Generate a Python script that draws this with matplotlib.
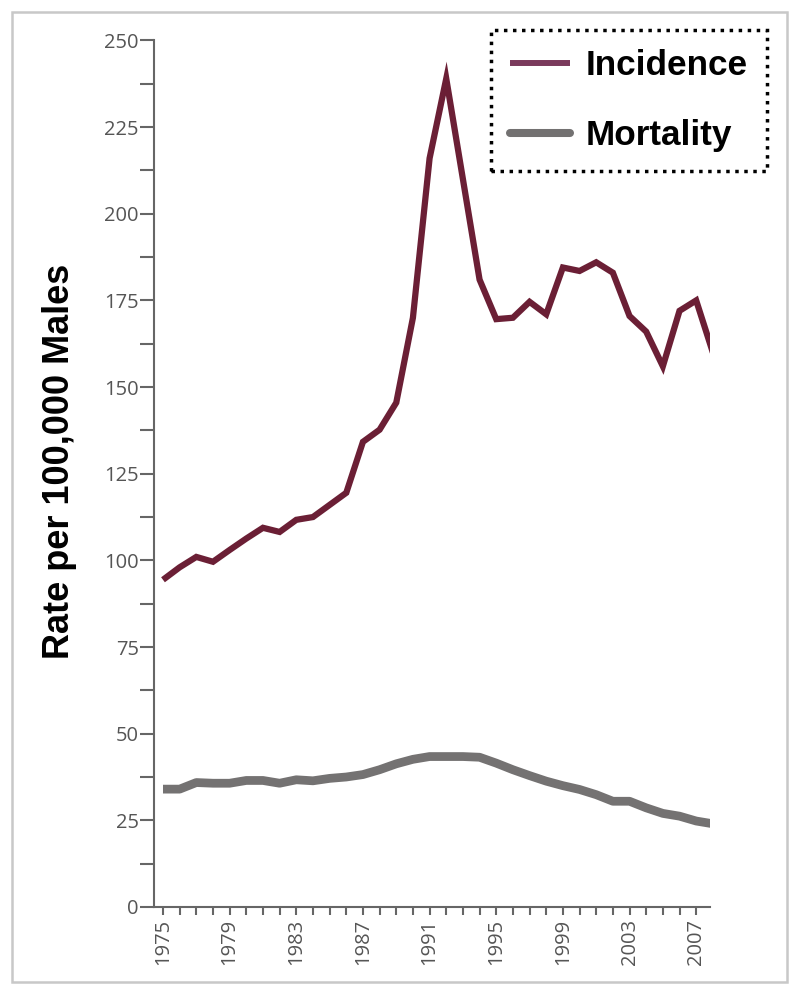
import numpy as np
import matplotlib
matplotlib.use('Agg')
from matplotlib import pyplot as plt
from matplotlib.lines import Line2D
from matplotlib.patches import Rectangle
from matplotlib.ticker import MultipleLocator

years = list(range(1975, 2009))
incidence = [94.4, 98, 101, 99.6, 103, 106.3, 109.4, 108.2, 111.7, 112.5,
             116, 119.5, 134.2, 137.7, 145.5, 170, 216, 239, 210, 181,
             169.6, 170, 174.6, 171, 184.5, 183.5, 186, 183, 170.5, 166,
             156, 172, 175, 160]
mortality = [34.0, 34.0, 35.9, 35.7, 35.7, 36.5, 36.5, 35.7, 36.7, 36.4,
             37.1, 37.5, 38.2, 39.6, 41.3, 42.6, 43.4, 43.4, 43.4, 43.2,
             41.5, 39.6, 37.9, 36.3, 35.0, 33.9, 32.4, 30.5, 30.5, 28.6,
             27.0, 26.2, 24.8, 24.0]
labels = ['Incidence', 'Mortality']
line_colors = ['#6b1f35', '#747272']
legend_colors = ['#7a3a5c', '#737171']
ylabel = 'Rate per 100,000 Males'

fig = plt.figure(figsize=(8, 9.97), dpi=100)
ax = fig.add_axes([0.1925, 0.0903, 0.695, 0.8691])

ax.plot(years, mortality, color=line_colors[1], lw=6.3, solid_capstyle='butt',
        solid_joinstyle='round')
ax.plot(years, incidence, color=line_colors[0], lw=4.5, solid_capstyle='butt',
        solid_joinstyle='miter')

ax.set_xlim(1974.46, 2007.83)
ax.set_ylim(0, 250)

for s in ['top', 'right']:
    ax.spines[s].set_visible(False)
for s in ['left', 'bottom']:
    ax.spines[s].set_color('#666666')
    ax.spines[s].set_linewidth(1.5)

ax.yaxis.set_major_locator(MultipleLocator(25))
ax.yaxis.set_minor_locator(MultipleLocator(12.5))
ax.set_xticks(years[:-1], minor=True)
ax.set_xticks(years[:-1:4])
ax.set_xticklabels([str(y) for y in years[:-1:4]], rotation=90)

ax.tick_params(axis='y', which='both', length=10, width=1.5, color='#666666',
               pad=1, labelsize=14.5, labelcolor='#555555')
ax.tick_params(axis='x', which='both', length=5.5, width=1.5, color='#666666',
               pad=3, labelsize=14.5, labelcolor='#555555')
for t in ax.get_xticklabels() + ax.get_yticklabels():
    t.set_family('Open Sans')

fig.text(0.075, 0.537, ylabel, rotation=90, ha='center', va='center',
         family='Liberation Sans', weight='bold', fontsize=26)

handles = [Line2D([], [], color=legend_colors[0], lw=4.3, solid_capstyle='butt'),
           Line2D([], [], color=legend_colors[1], lw=5.8, solid_capstyle='round')]
leg = ax.legend(handles, labels, loc='upper right', bbox_to_anchor=(0.9588, 0.970),
                bbox_transform=fig.transFigure,
                prop={'family': 'Liberation Sans', 'weight': 'bold', 'size': 25.3},
                handlelength=1.7, handletextpad=0.45, borderpad=0.55,
                labelspacing=1.05, frameon=True, fancybox=False, borderaxespad=0)
frame = leg.get_frame()
frame.set_edgecolor('black')
frame.set_facecolor('white')
frame.set_linestyle((0, (1, 1.6)))
frame.set_linewidth(2.5)
frame.set_alpha(1)

fig.patches.append(Rectangle((12 / 800, 1 - 982 / 997), 775 / 800, 970 / 997,
                             transform=fig.transFigure, fill=False,
                             edgecolor='#c8c8c8', lw=1.8))

plt.savefig('out.png', dpi=100)
